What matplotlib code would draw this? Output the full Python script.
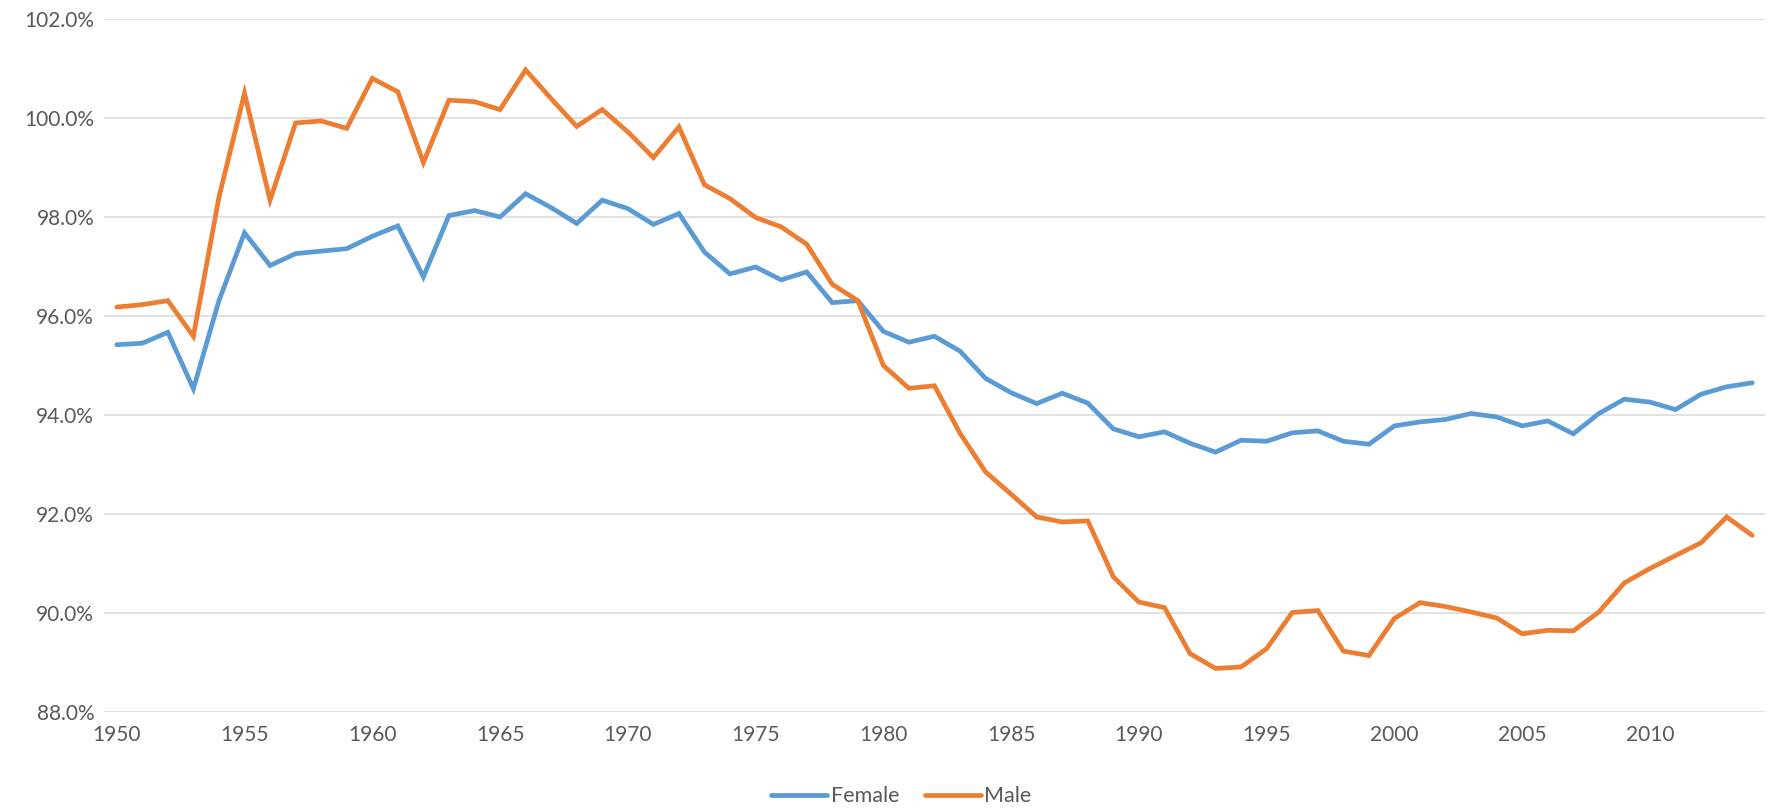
import matplotlib
import numpy as np
from matplotlib import pyplot as plt
from matplotlib.ticker import PercentFormatter, MultipleLocator

matplotlib.use("Agg")

# Data
years = list(range(1950, 2015))

female = [
    95.42, 95.45, 95.67, 94.53, 96.31, 97.68, 97.02, 97.26, 97.31, 97.36,
    97.61, 97.82, 96.79, 98.03, 98.13, 98.00, 98.47, 98.19, 97.87, 98.34,
    98.17, 97.85, 98.07, 97.29, 96.85, 96.99, 96.73, 96.89, 96.27, 96.31,
    95.69, 95.47, 95.59, 95.29, 94.74, 94.45, 94.23, 94.44, 94.24, 93.72,
    93.56, 93.66, 93.43, 93.25, 93.49, 93.47, 93.64, 93.68, 93.47, 93.41,
    93.78, 93.86, 93.91, 94.03, 93.96, 93.78, 93.88, 93.62, 94.03, 94.32,
    94.26, 94.11, 94.42, 94.57, 94.65,
]

male = [
    96.18, 96.23, 96.31, 95.59, 98.40, 100.50, 98.34, 99.90, 99.94, 99.79,
    100.80, 100.53, 99.10, 100.36, 100.33, 100.17, 100.97, 100.39, 99.83, 100.17,
    99.72, 99.20, 99.82, 98.65, 98.37, 97.99, 97.80, 97.45, 96.64, 96.31,
    95.00, 94.54, 94.59, 93.63, 92.85, 92.40, 91.94, 91.84, 91.86, 90.73,
    90.22, 90.11, 89.18, 88.88, 88.91, 89.28, 90.01, 90.05, 89.23, 89.14,
    89.89, 90.21, 90.13, 90.02, 89.90, 89.58, 89.65, 89.64, 90.02, 90.61,
    90.90, 91.16, 91.42, 91.94, 91.57,
]

labels = ["Female", "Male"]
colors = ["#5B9BD5", "#ED7D31"]

plt.rcParams['font.family'] = ['Lato', 'DejaVu Sans']

fig = plt.figure(figsize=(17.71, 8.08), dpi=100)
ax = fig.add_axes([0.0587, 0.1188, 0.9379, 0.8577])

for vals, lab, col in zip([female, male], labels, colors):
    ax.plot(years, vals, color=col, lw=3.4, label=lab, solid_capstyle="round",
            solid_joinstyle="miter")

ax.set_xlim(1949.5, 2014.5)
ax.set_ylim(88, 102)
ax.yaxis.set_major_locator(MultipleLocator(2))
ax.yaxis.set_major_formatter(PercentFormatter(decimals=1))
ax.set_xticks(range(1950, 2015, 5))

ax.grid(axis="y", color="#D9D9D9", lw=1.1)
ax.set_axisbelow(True)
for s in ax.spines.values():
    s.set_visible(False)
ax.tick_params(length=0, labelsize=15, colors="#595959", pad=9)
ax.tick_params(axis="y", pad=7)

fig.legend(loc="lower center", bbox_to_anchor=(0.509, -0.022), ncol=2,
           frameon=False, fontsize=15.5, labelcolor="#595959",
           handlelength=2.6, handletextpad=0.15, columnspacing=1.2)

fig.savefig("out.png", dpi=100)
